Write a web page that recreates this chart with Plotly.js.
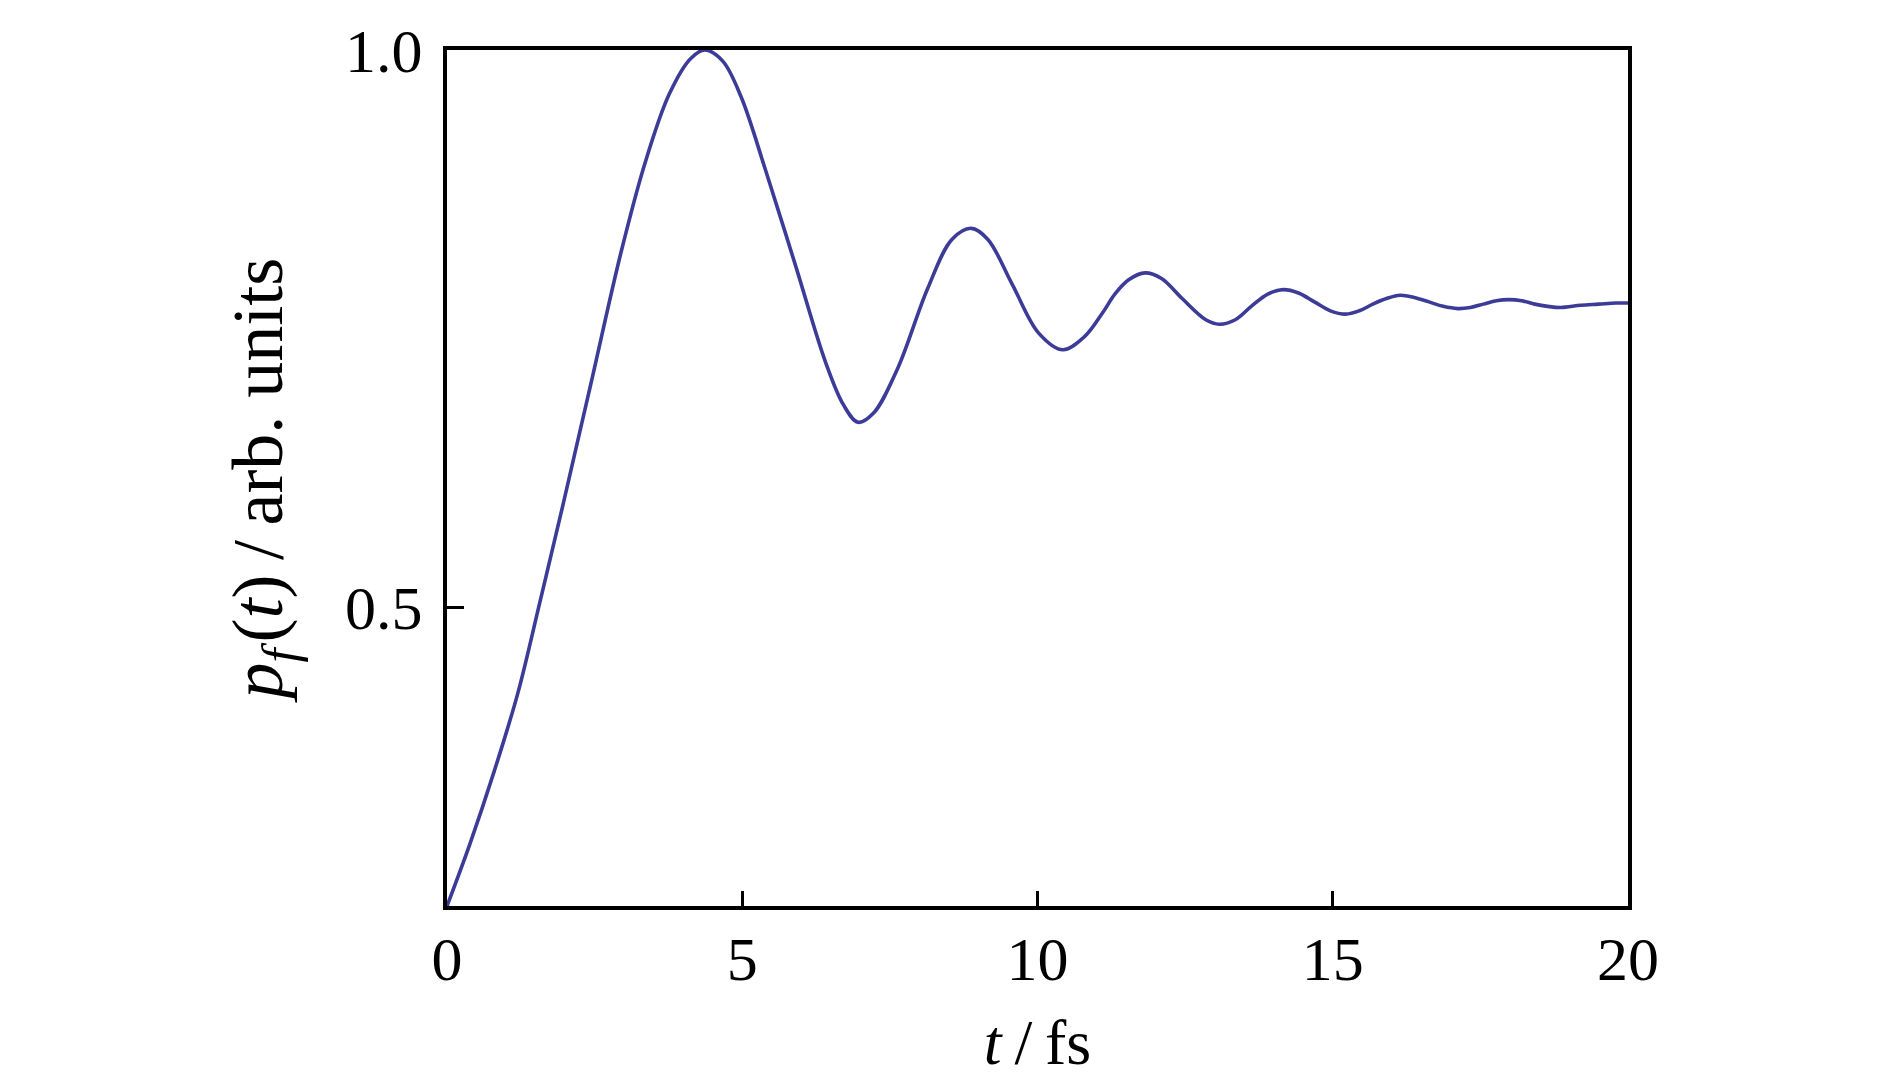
<!DOCTYPE html>
<html>
<head>
<meta charset="utf-8">
<script src="https://cdn.plot.ly/plotly-3.0.1.min.js"></script>
<style>
  html, body { margin: 0; padding: 0; background: #ffffff; }
  #chart { width: 1890px; height: 1087px; }
</style>
</head>
<body>
<div id="chart"></div>
<script>
// time in fs
const timeFs = [0, 0.39, 0.8, 1.2, 1.57, 1.96, 2.43, 2.94, 3.35, 3.76, 4.12, 4.37, 4.67, 4.98, 5.39, 5.9, 6.41, 6.71, 6.96, 7.22, 7.63, 8.14, 8.55, 8.88, 9.16, 9.57, 10.02, 10.43, 10.8, 11.1, 11.31, 11.55, 11.82, 12.1, 12.45, 12.85, 13.08, 13.35, 13.62, 13.9, 14.16, 14.42, 14.69, 14.96, 15.22, 15.45, 15.68, 15.91, 16.14, 16.38, 16.63, 16.87, 17.12, 17.33, 17.55, 17.77, 17.98, 18.2, 18.42, 18.64, 18.86, 19.2, 19.5, 19.8, 20];
// p_f(t), arbitrary units
const pf = [0.232, 0.288, 0.353, 0.423, 0.504, 0.591, 0.699, 0.817, 0.898, 0.960, 0.992, 1.000, 0.990, 0.958, 0.893, 0.807, 0.720, 0.682, 0.666, 0.674, 0.714, 0.786, 0.830, 0.840, 0.830, 0.790, 0.746, 0.731, 0.743, 0.764, 0.781, 0.794, 0.800, 0.795, 0.777, 0.758, 0.754, 0.758, 0.770, 0.781, 0.785, 0.782, 0.774, 0.766, 0.763, 0.766, 0.772, 0.777, 0.780, 0.778, 0.774, 0.770, 0.768, 0.769, 0.772, 0.775, 0.776, 0.775, 0.772, 0.770, 0.769, 0.771, 0.772, 0.773, 0.773];

const xTickVals = [0, 5, 10, 15, 20];
const xTickText = ['0', '5', '10', '15', '20'];
const yTickVals = [0.5, 1.0];
const yTickText = ['0.5', '1.0'];

const fontFamily = '"Liberation Serif", "DejaVu Serif", serif';

const trace = {
  x: timeFs,
  y: pf,
  type: 'scatter',
  mode: 'lines',
  line: { color: '#3c3c98', width: 3.6, shape: 'spline', smoothing: 1 },
  hoverinfo: 'skip',
  showlegend: false
};

const layout = {
  width: 1890,
  height: 1087,
  paper_bgcolor: '#ffffff',
  plot_bgcolor: '#ffffff',
  margin: { l: 447, r: 262, t: 50, b: 181 },
  font: { family: fontFamily, color: '#000000', size: 62 },
  showlegend: false,
  xaxis: {
    range: [0, 20],
    tickvals: xTickVals,
    ticktext: xTickText,
    ticks: 'inside',
    ticklen: 15,
    tickwidth: 3,
    tickcolor: '#000000',
    showline: true,
    linecolor: '#000000',
    linewidth: 4,
    mirror: true,
    showgrid: false,
    zeroline: false,
    tickfont: { family: fontFamily, size: 62, color: '#000000' },
    ticklabelstandoff: -4,
    title: {
      text: '<i>t</i>&#8201;/&#8201;fs',
      font: { family: fontFamily, size: 64, color: '#000000' },
      standoff: 28
    }
  },
  yaxis: {
    range: [0.232, 1.0],
    tickvals: yTickVals,
    ticktext: yTickText,
    ticks: 'inside',
    ticklen: 17,
    tickwidth: 3,
    tickcolor: '#000000',
    showline: true,
    linecolor: '#000000',
    linewidth: 4,
    mirror: true,
    showgrid: false,
    zeroline: false,
    tickfont: { family: fontFamily, size: 62, color: '#000000' },
    ticklabelstandoff: 8,
    title: {
      text: '<i>p</i><sub><i>f</i></sub>&#8202;(<i>t</i>)&#8201;/&#8201;arb. units',
      font: { family: fontFamily, size: 72, color: '#000000' },
      standoff: 40
    }
  }
};

Plotly.newPlot('chart', [trace], layout, { displayModeBar: false, staticPlot: true });
</script>
</body>
</html>
